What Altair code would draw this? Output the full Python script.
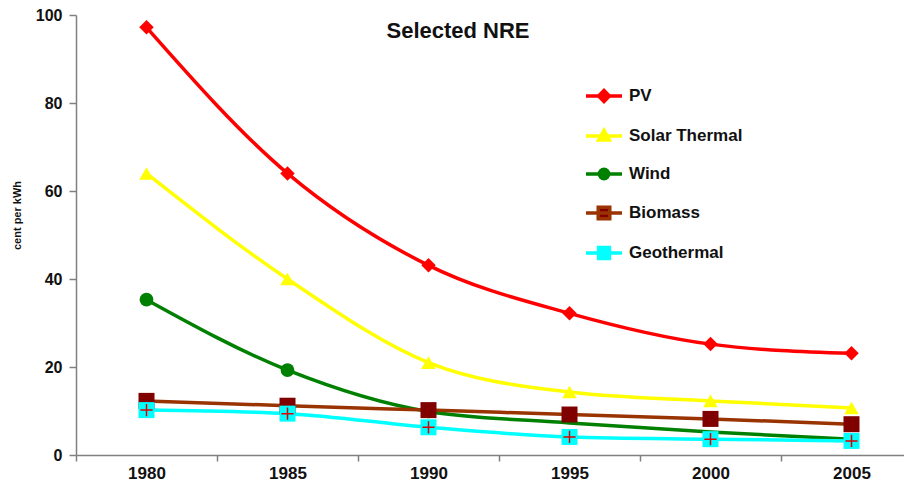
import altair as alt
import pandas as pd

years = ["1980", "1985", "1990", "1995", "2000", "2005"]
series_names = ["PV", "Solar Thermal", "Wind", "Biomass", "Geothermal"]
pv = [97.2, 64.0, 43.1, 32.2, 25.2, 23.1]
solar_thermal = [64.0, 40.0, 21.0, 14.3, 12.3, 10.7]
wind = [35.3, 19.3, 9.9, 7.3, 5.2, 3.6]
biomass = [12.3, 11.2, 10.2, 9.2, 8.2, 7.0]
geothermal = [10.2, 9.4, 6.3, 4.1, 3.6, 3.2]
wind_marker_years = ["1980", "1985", "1990"]

title_text = "Selected NRE"
y_title = "cent per kWh"

line_colors = ["#ff0000", "#ffff00", "#008000", "#993300", "#00ffff"]
marker_colors = ["#ff0000", "#ffff00", "#008000", "#800000", "#00ffff"]
marker_shapes = ["diamond", "triangle-up", "circle", "square", "square"]
marker_sizes = [210, 210, 190, 256, 256]
legend_marks = [
    "M0,-0.3L0.3,0L0,0.3L-0.3,0Z",
    "M0,-0.32L0.3,0.22L-0.3,0.22Z",
    "M0.26,0A0.26,0.26 0 1,1 -0.26,0A0.26,0.26 0 1,1 0.26,0Z",
    "M-0.32,-0.32H0.32V0.32H-0.32Z",
    "M-0.3,-0.3H0.3V0.3H-0.3Z",
]
legend_paths = ["M-1,0H1" + m for m in legend_marks]

rows = []
for name, vals in zip(series_names, [pv, solar_thermal, wind, biomass, geothermal]):
    for yr, v in zip(years, vals):
        rows.append({"year": yr, "series": name, "value": v})
df = pd.DataFrame(rows)

FONT = "Liberation Sans"


def by_series(values, quote):
    expr = f"'{values[-1]}'" if quote else str(values[-1])
    for n, s in zip(series_names[-2::-1], values[-2::-1]):
        val = f"'{s}'" if quote else str(s)
        expr = f"datum.series == '{n}' ? {val} : ({expr})"
    return expr


shape_expr = by_series(marker_shapes, True)
size_expr = by_series(marker_sizes, False)
wind_years_expr = "[" + ",".join(f"'{y}'" for y in wind_marker_years) + "]"

x_enc = alt.X(
    "year:N",
    sort=years,
    scale=alt.Scale(domain=years, paddingInner=0, paddingOuter=0, type="band", range=[0, 846]),
    axis=alt.Axis(
        title=None, labelAngle=0, tickBand="extent", labelFont=FONT, labelFontSize=17,
        labelFontWeight="bold", labelColor="#111111", labelPadding=4, tickSize=6,
        tickColor="#808080", tickWidth=1.5, domainColor="#808080", domainWidth=1.5, grid=False,
    ),
)
y_enc = alt.Y(
    "value:Q",
    scale=alt.Scale(domain=[0, 100], nice=False),
    axis=alt.Axis(
        values=[0, 20, 40, 60, 80, 100], title=y_title, titleFont=FONT, titleFontSize=11,
        titleFontWeight="bold", titleColor="#111111", titlePadding=13, titleY=200,
        labelFont=FONT, labelFontSize=16, labelFontWeight="bold", labelColor="#111111",
        labelPadding=7, tickSize=7, tickColor="#808080", tickWidth=1.5,
        domainColor="#808080", domainWidth=1.5, grid=False,
    ),
)

stroke_scale = alt.Scale(domain=series_names, range=line_colors)
fill_scale = alt.Scale(domain=series_names, range=marker_colors)
shape_scale = alt.Scale(domain=series_names, range=legend_paths)

leg = alt.Legend(
    title=None, orient="none", legendX=508, legendY=61, symbolSize=1300,
    symbolStrokeWidth=3.5, labelFont=FONT, labelFontSize=17, labelFontWeight="bold",
    labelColor="#111111", labelOffset=5, rowPadding=7, symbolOpacity=1,
)

base = alt.Chart(df)

legend_layer = base.transform_filter("false").mark_point(opacity=1, filled=False, size=1300).encode(
    x=x_enc, y=y_enc,
    stroke=alt.Stroke("series:N", scale=stroke_scale, legend=leg),
    fill=alt.Fill("series:N", scale=fill_scale, legend=leg),
    shape=alt.Shape("series:N", scale=shape_scale, legend=leg),
)

lines = base.mark_line(interpolate="monotone", strokeWidth=3.5).encode(
    x=x_enc, y=y_enc,
    stroke=alt.Stroke("series:N", scale=stroke_scale),
    detail="series:N",
)

points = base.transform_filter(
    f"datum.series != 'Wind' || indexof({wind_years_expr}, datum.year) >= 0"
).transform_calculate(sym=shape_expr, sz=size_expr).mark_point(
    filled=True, opacity=1, strokeWidth=0
).encode(
    x=x_enc, y=y_enc,
    fill=alt.Fill("series:N", scale=fill_scale),
    shape=alt.Shape("sym:N", scale=None),
    size=alt.Size("sz:Q", scale=None),
)

plus = base.transform_filter("datum.series == 'Geothermal'").mark_point(
    shape="M-1,0H1M0,-1V1", filled=False, stroke="#e00000", strokeWidth=1.5, size=150, opacity=1
).encode(x=x_enc, y=y_enc)

chart = alt.layer(legend_layer, lines, points, plus).properties(
    width=828,
    height=440,
    title=alt.TitleParams(
        title_text, font=FONT, fontSize=22, fontWeight="bold", color="#111111",
        anchor="middle", dx=-32, dy=40,
    ),
    autosize=alt.AutoSizeParams(type="none"),
    padding={"left": 68, "top": 7, "right": 0, "bottom": 29},
).configure_view(stroke=None)

chart.save("out.html", embed_options={"renderer": "svg", "actions": False})
